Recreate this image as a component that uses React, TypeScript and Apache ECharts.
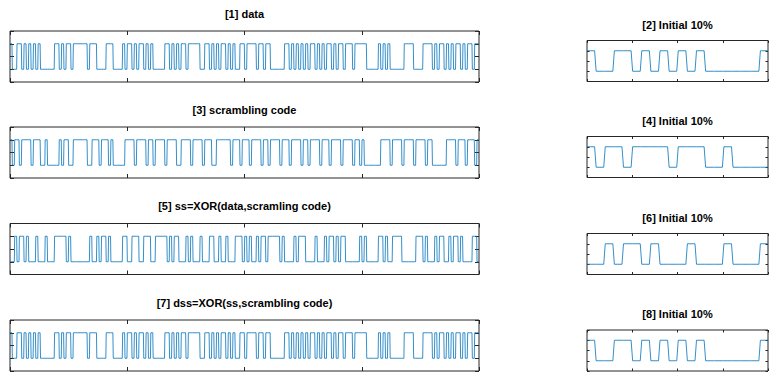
import React, { useEffect, useRef } from "react";
import * as echarts from "echarts";

// Bit streams (200 bits each, 10 bits per chunk)
const dataBits = [
  "1001101010", "1010000001", "1010110111", "1110111000", "0111000010",
  "1101011010", "1000001101", "0101101111", "1001101010", "1101010011",
  "0111101101", "1000000110", "1010101011", "0101011010", "1101110111",
  "1100000101", "0100000011", "1100001111", "0101101010", "1101011011",
];
const scramblingBits = [
  "1011011110", "1110010000", "0101100111", "1110011101", "1101000001",
  "1110111101", "1011110111", "1001111011", "1101110011", "1111011101",
  "1101111011", "0111101110", "1111011011", "1101110111", "1011110110",
  "1000000011", "1101111011", "1101111011", "0000001111", "0111011101",
];
const ssBits = [
  "0010110100", "0100010001", "1111010000", "0000100101", "1010000011",
  "0011100111", "0011111010", "1100010100", "0100011001", "0010001110",
  "1010010110", "1111101000", "0101110000", "1000101101", "0110000001",
  "0100000110", "1001111000", "0001110100", "0101100101", "1010000110",
];
const dssBits = [
  "1001101010", "1010000001", "1010110111", "1110111000", "0111000010",
  "1101011010", "1000001101", "0101101111", "1001101010", "1101010011",
  "0111101101", "1000000110", "1010101011", "0101011010", "1101110111",
  "1100000101", "0100000011", "1100001111", "0101101010", "1101011011",
];

const titles = [
  "[1] data",
  "[2] Initial 10%",
  "[3] scrambling code",
  "[4] Initial 10%",
  "[5] ss=XOR(data,scramling code)",
  "[6] Initial 10%",
  "[7] dss=XOR(ss,scrambling code)",
  "[8] Initial 10%",
];
const samplesPerBit = 6;
const initialBits = 20;

const toBits = (chunks: string[]) =>
  chunks.join("").split("").map((c) => (c === "1" ? 1 : 0));

function toPoints(bits: number[]) {
  const pts: number[][] = [];
  bits.forEach((b, k) => {
    pts.push([k * samplesPerBit, b]);
    pts.push([k * samplesPerBit + samplesPerBit - 1, b]);
  });
  return pts;
}

export default function App() {
  const ref = useRef<HTMLDivElement>(null);
  useEffect(() => {
    if (!ref.current) return;
    const chart = echarts.init(ref.current, undefined, { renderer: "svg" });
    const streams = [dataBits, scramblingBits, ssBits, dssBits].map(toBits);
    const axisColor = "#262626";
    const leftTops = [31, 127, 223.5, 320];
    const rightTops = [40.5, 136.5, 233.5, 330];
    const grids: any[] = [];
    const xAxes: any[] = [];
    const yAxes: any[] = [];
    const series: any[] = [];
    const graphics: any[] = [];
    let gi = 0;
    streams.forEach((bits, r) => {
      const panels = [
        { bits, left: 10, width: 469, top: leftTops[r], height: 51, tick: 4 },
        {
          bits: bits.slice(0, initialBits),
          left: 587,
          width: 181,
          top: rightTops[r],
          height: 41,
          tick: 2.5,
        },
      ];
      panels.forEach((p, c) => {
        const max = p.bits.length * samplesPerBit - 1;
        grids.push({
          left: p.left,
          top: p.top,
          width: p.width,
          height: p.height,
          show: true,
          borderColor: axisColor,
          borderWidth: 1,
          backgroundColor: "#fff",
        });
        ["bottom", "top"].forEach((pos) => {
          xAxes.push({
            gridIndex: gi,
            type: "value",
            position: pos,
            min: 0,
            max,
            interval: max / 4,
            axisLine: { show: false, onZero: false },
            axisTick: {
              show: true,
              inside: true,
              length: p.tick,
              lineStyle: { color: axisColor, width: 1 },
            },
            axisLabel: { show: false },
            splitLine: { show: false },
          });
        });
        ["left", "right"].forEach((pos) => {
          yAxes.push({
            gridIndex: gi,
            type: "value",
            position: pos,
            min: -0.5,
            max: 1.5,
            interval: 0.5,
            axisLine: { show: false, onZero: false },
            axisTick: {
              show: true,
              inside: true,
              length: p.tick,
              lineStyle: { color: axisColor, width: 1 },
            },
            axisLabel: { show: false },
            splitLine: { show: false },
          });
        });
        series.push({
          type: "line",
          xAxisIndex: gi * 2,
          yAxisIndex: gi * 2,
          data: toPoints(p.bits),
          symbol: "none",
          silent: true,
          lineStyle: { color: "#0072BD", width: 0.8 },
        });
        graphics.push({
          type: "text",
          x: p.left + p.width / 2,
          y: p.top - (c === 0 ? 17.5 : 16),
          style: {
            text: titles[r * 2 + c],
            font: "bold 11px 'Liberation Sans', Arial, sans-serif",
            fill: "#000",
            textAlign: "center",
            textVerticalAlign: "middle",
          },
        });
        gi++;
      });
    });
    chart.setOption({
      animation: false,
      backgroundColor: "#fff",
      grid: grids,
      xAxis: xAxes,
      yAxis: yAxes,
      series,
      graphic: graphics,
    });
    return () => chart.dispose();
  }, []);
  return (
    <div
      ref={ref}
      style={{ position: "fixed", left: 0, top: 0, width: 776, height: 381 }}
    />
  );
}
